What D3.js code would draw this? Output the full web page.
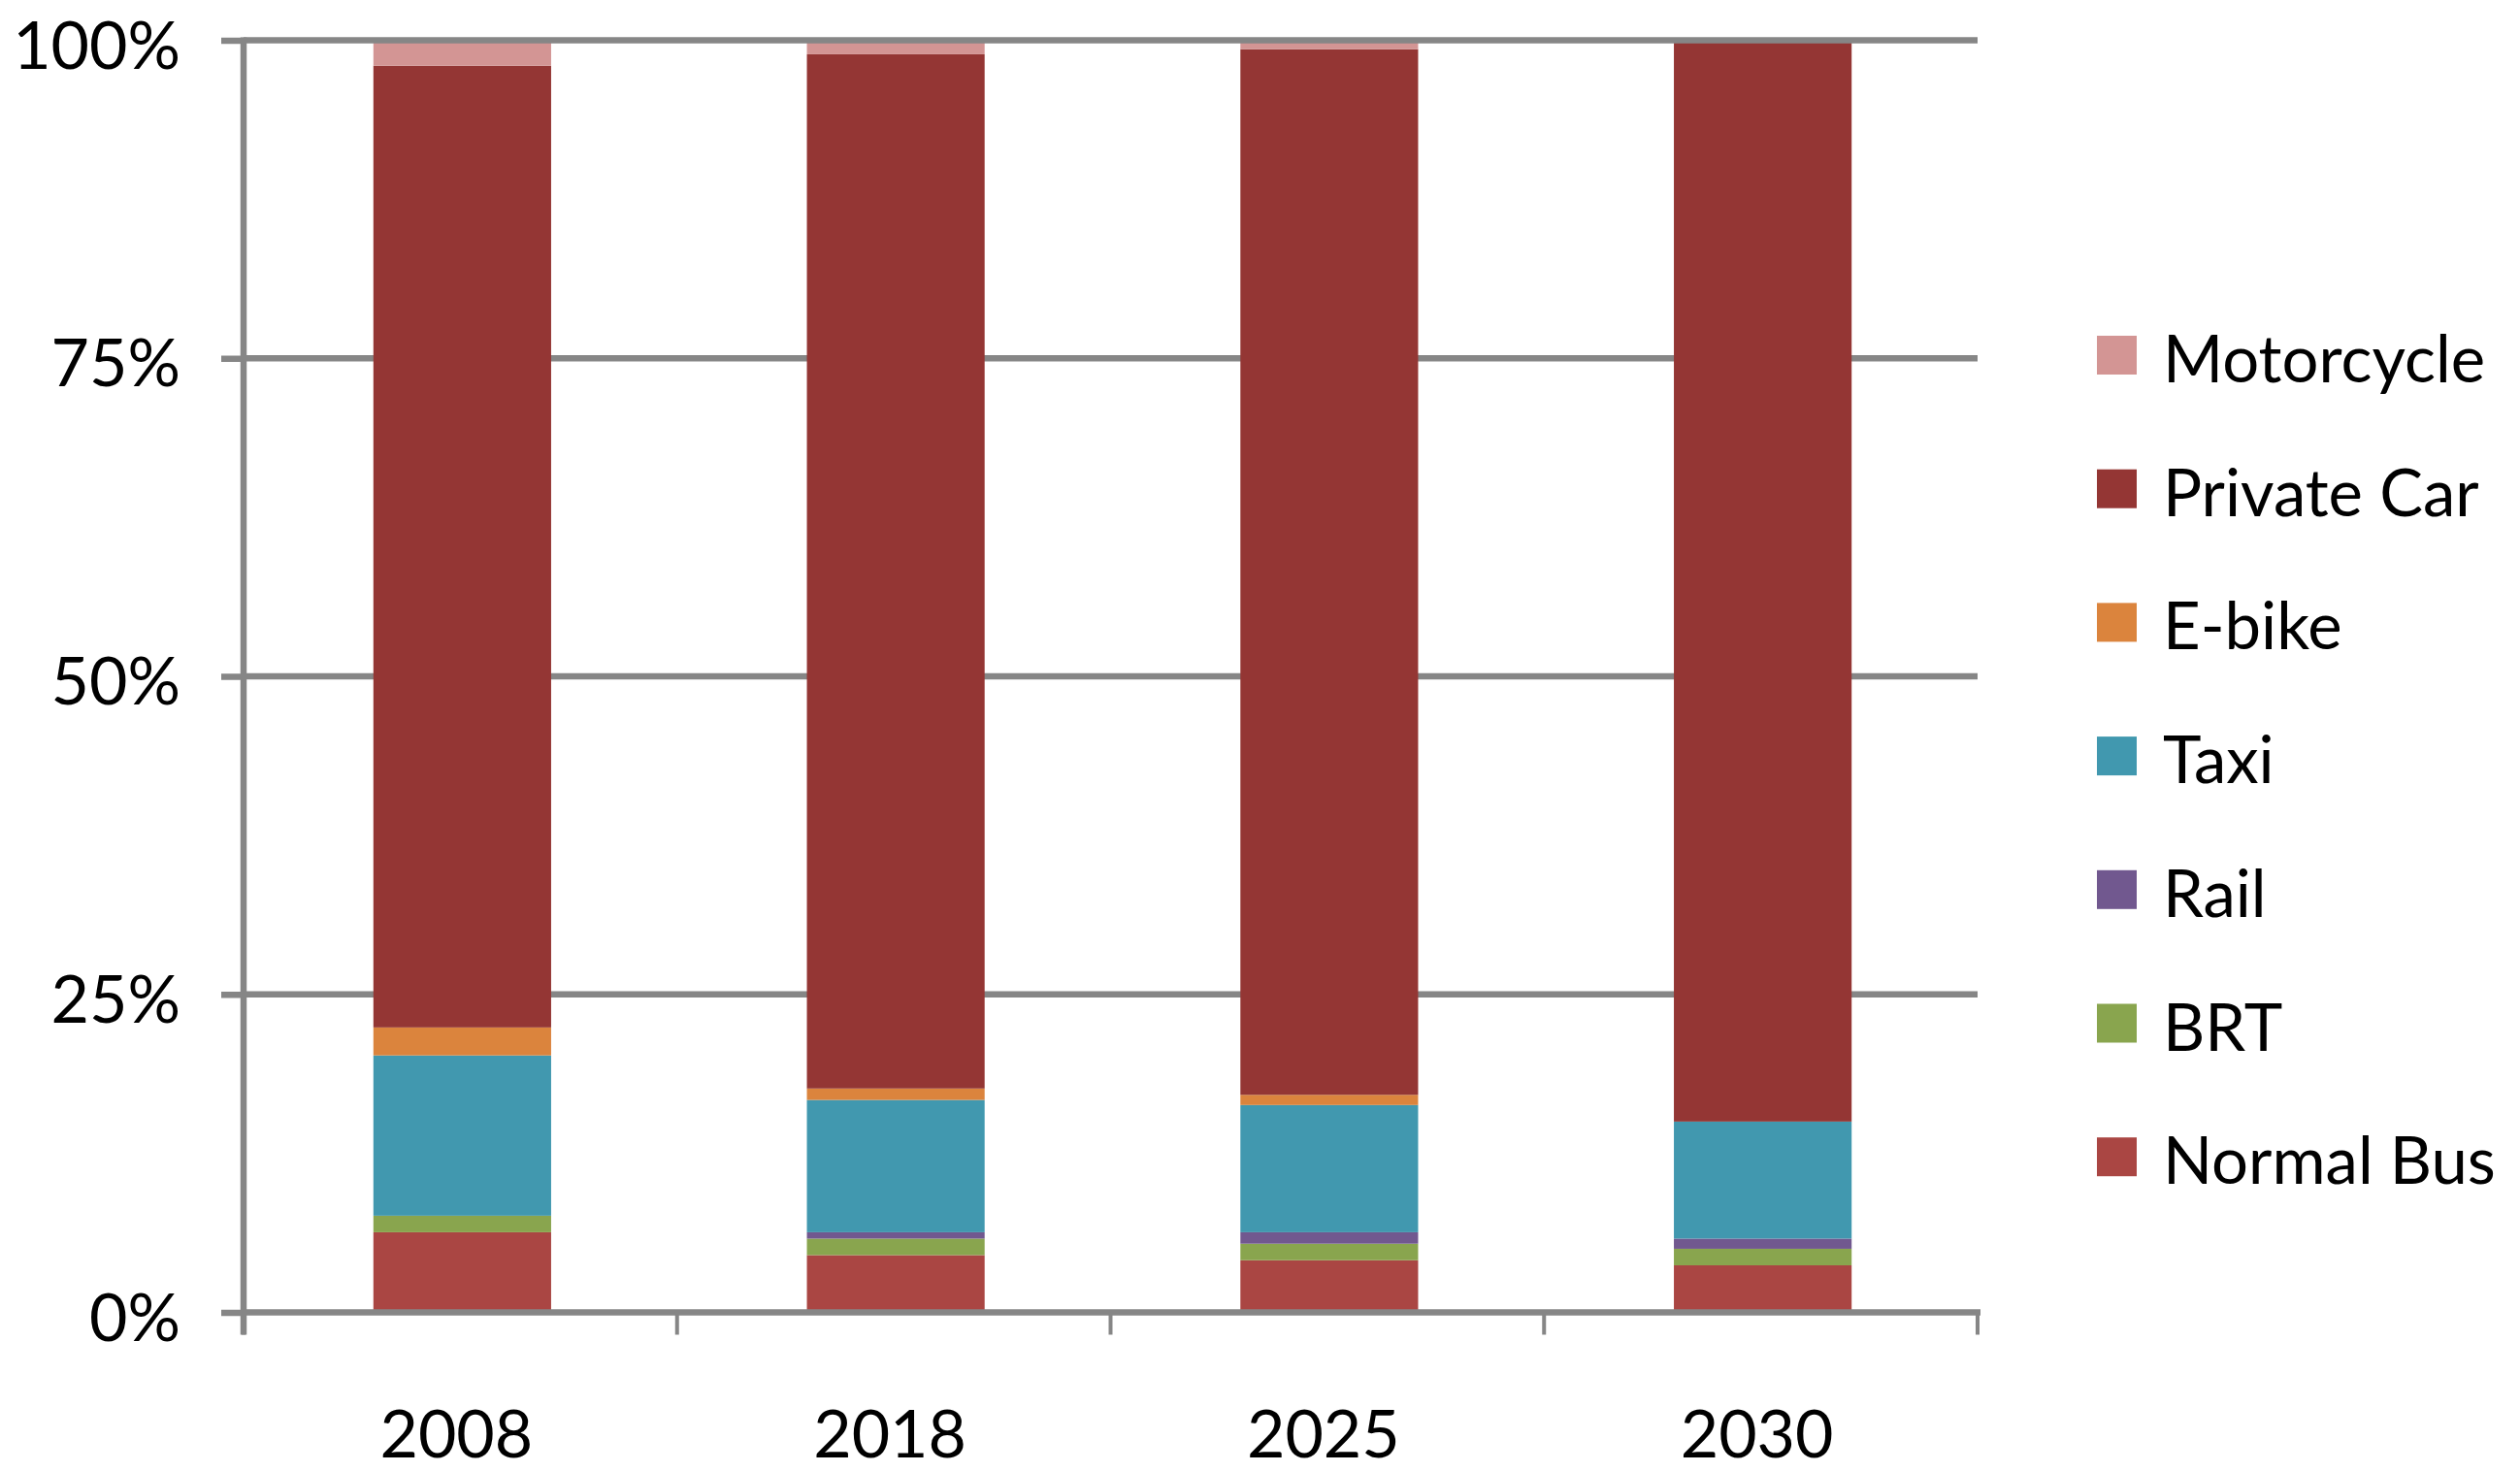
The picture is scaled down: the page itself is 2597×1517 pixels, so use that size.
<!DOCTYPE html>
<html>
<head>
<meta charset="utf-8">
<script src="https://cdn.jsdelivr.net/npm/d3@7"></script>
<style>
  html, body { margin: 0; padding: 0; background: #fff; }
  svg { display: block; }
  text { font-family: Lato, "Open Sans", sans-serif; fill: #000; }
</style>
</head>
<body>
<svg id="chart" width="2597" height="1517"></svg>
<script>
// ---- data (percent of trips) ----
const categories = ["2008", "2018", "2025", "2030"];
const seriesNames = ["Normal Bus", "BRT", "Rail", "Taxi", "E-bike", "Private Car", "Motorcycle"];
const normalBus  = [6.3, 4.5, 4.1, 3.7];
const brt        = [1.3, 1.3, 1.3, 1.3];
const rail       = [0.0, 0.5, 0.9, 0.8];
const taxi       = [12.6, 10.4, 10.0, 9.2];
const ebike      = [2.2, 0.9, 0.8, 0.0];
const privateCar = [75.6, 81.3, 82.2, 85.0];
const motorcycle = [2.0, 1.1, 0.7, 0.0];
const yTickValues = [0, 0.25, 0.5, 0.75, 1];
const yTickLabels = ["0%", "25%", "50%", "75%", "100%"];
const colors = ["#AA4643", "#89A54E", "#71588F", "#4198AF", "#DB843D", "#943634", "#D39594"];

const seriesValues = [normalBus, brt, rail, taxi, ebike, privateCar, motorcycle];
const table = categories.map((c, i) => {
  const row = { cat: c };
  seriesNames.forEach((s, j) => row[s] = seriesValues[j][i]);
  return row;
});

// ---- layout ----
const plot = { left: 251, right: 2038, top: 41.5, bottom: 1352.5 };
const gridColor = "#868686";
const gridW = 6.5;

const svg = d3.select("#chart");
svg.append("rect").attr("width", 2597).attr("height", 1517).attr("fill", "#fff");

const x = d3.scaleBand().domain(categories)
  .range([plot.left, plot.right])
  .paddingInner(0.59).paddingOuter(0.295);
const xEdge = d3.scaleLinear().domain([0, categories.length]).range([plot.left, plot.right]);
const y = d3.scaleLinear().domain([0, 1]).range([plot.bottom, plot.top]);

const stack = d3.stack().keys(seriesNames).offset(d3.stackOffsetExpand);
const stacked = stack(table);

// gridlines (behind bars)
svg.append("g").selectAll("line").data(yTickValues.filter(v => v > 0 && v < 1)).join("line")
  .attr("x1", plot.left).attr("x2", plot.right)
  .attr("y1", d => y(d)).attr("y2", d => y(d))
  .attr("stroke", gridColor).attr("stroke-width", gridW);

// bars
svg.append("g").selectAll("g").data(stacked).join("g")
  .attr("fill", (d, i) => colors[i])
  .selectAll("rect").data(d => d).join("rect")
  .attr("x", d => x(d.data.cat) + 2)
  .attr("width", x.bandwidth())
  .attr("y", d => y(d[1]))
  .attr("height", d => Math.max(0, y(d[0]) - y(d[1])));

// top gridline and axes on top
svg.append("line")
  .attr("x1", plot.left).attr("x2", plot.right)
  .attr("y1", y(1)).attr("y2", y(1))
  .attr("stroke", gridColor).attr("stroke-width", gridW);

// y axis
const yAxis = d3.axisLeft(y).tickValues(yTickValues).tickSize(23).tickFormat("");
const yg = svg.append("g").attr("transform", `translate(${plot.left},0)`).call(yAxis);
yg.select(".domain").remove();
yg.selectAll(".tick line").attr("stroke", gridColor).attr("stroke-width", gridW);
svg.append("line")
  .attr("x1", plot.left).attr("x2", plot.left)
  .attr("y1", plot.top - 3).attr("y2", plot.bottom + 23)
  .attr("stroke", gridColor).attr("stroke-width", gridW);
svg.append("g").selectAll("text").data(yTickValues).join("text")
  .attr("x", 186).attr("y", d => y(d) + 29)
  .attr("text-anchor", "end")
  .attr("font-size", 68)
  .text((d, i) => yTickLabels[i]);

// x axis
svg.append("line")
  .attr("x1", plot.left - 3).attr("x2", plot.right + 3)
  .attr("y1", plot.bottom).attr("y2", plot.bottom)
  .attr("stroke", gridColor).attr("stroke-width", gridW);
svg.append("g").selectAll("line").data(d3.range(categories.length + 1)).join("line")
  .attr("x1", d => xEdge(d)).attr("x2", d => xEdge(d))
  .attr("y1", plot.bottom).attr("y2", plot.bottom + 23)
  .attr("stroke", gridColor).attr("stroke-width", 4);
svg.append("g").selectAll("text").data(categories).join("text")
  .attr("x", d => x(d) + x.bandwidth() / 2 - 4)
  .attr("y", 1502)
  .attr("text-anchor", "middle")
  .attr("font-size", 68)
  .text(d => d);

// legend (reverse order, top = Motorcycle)
const legendOrder = seriesNames.map((s, i) => ({ name: s, color: colors[i] })).reverse();
const lg = svg.append("g").selectAll("g").data(legendOrder).join("g")
  .attr("transform", (d, i) => `translate(2161,${366 + i * 137.7})`);
lg.append("rect").attr("x", 0).attr("y", -20).attr("width", 41).attr("height", 40)
  .attr("fill", d => d.color);
lg.append("text").attr("x", 68).attr("y", 28).attr("font-size", 67).text(d => d.name);
</script>
</body>
</html>
